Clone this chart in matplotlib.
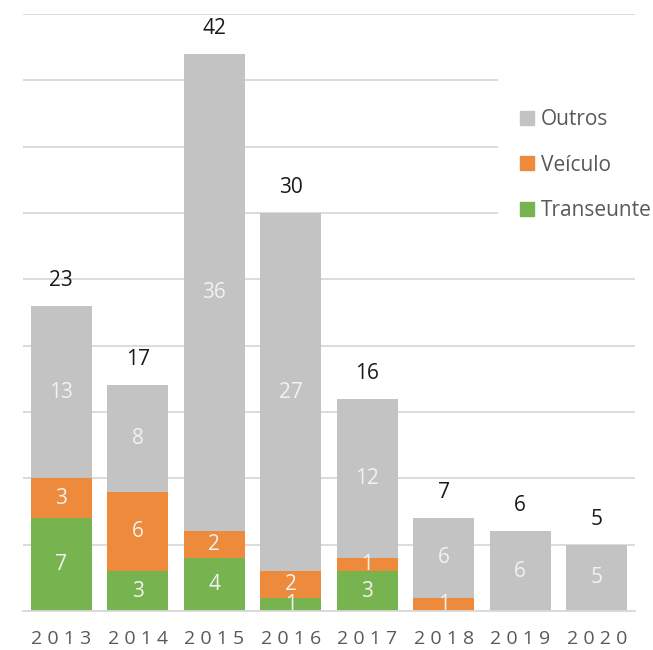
import matplotlib
matplotlib.use("Agg")
import matplotlib.pyplot as plt
from matplotlib.patches import Patch, Rectangle
import numpy as np

years = ["2013", "2014", "2015", "2016", "2017", "2018", "2019", "2020"]
transeunte = [7, 3, 4, 1, 3, 0, 0, 0]
veiculo = [3, 6, 2, 2, 1, 1, 0, 0]
outros = [13, 8, 36, 27, 12, 6, 6, 5]

c_green = "#77B34F"
c_orange = "#EE8A3C"
c_gray = "#C3C3C3"
grid_c = "#D9D9D9"

plt.rcParams['font.family'] = ['Open Sans', 'DejaVu Sans']

fig = plt.figure(figsize=(6.53, 6.50), dpi=100)
ax = fig.add_axes([23/653, 39/650, 612/653, 597/650])

x = np.arange(len(years))
t = np.array(transeunte)
v = np.array(veiculo)
o = np.array(outros)
w = 0.8

series = [(t, np.zeros_like(t), c_green, "Transeunte"),
          (v, t, c_orange, "Veículo"),
          (o, t + v, c_gray, "Outros")]
for vals, bottom, col, name in series:
    ax.bar(x, vals, w, bottom=bottom, color=col, zorder=2, label=name)
    for xi, val, b in zip(x, vals, bottom):
        if val > 0:
            ax.text(xi, b + val / 2, str(val), ha='center', va='center',
                    color='#F2F2F2', fontsize=15, zorder=3)

totals = t + v + o
for xi, tot in zip(x, totals):
    ax.annotate(str(tot), (xi, tot), xytext=(0, 14.5), textcoords='offset points',
                ha='center', va='baseline', fontsize=15, color='#1A1A1A')

ax.set_xlim(-0.5, len(years) - 0.5)
ax.set_ylim(0, 45)
ax.set_yticks(np.arange(0, 46, 5))
ax.yaxis.grid(True, color=grid_c, linewidth=1.3, zorder=0)
ax.set_axisbelow(True)
ax.tick_params(axis='y', left=False, labelleft=False)
ax.set_xticks(x)
ax.set_xticklabels([" ".join(yv) for yv in years], fontsize=14, color='#595959')
ax.tick_params(axis='x', length=0, pad=14)
for s in ['top', 'right', 'left']:
    ax.spines[s].set_visible(False)
ax.spines['bottom'].set_color(grid_c)
ax.spines['bottom'].set_linewidth(1.3)

# white legend background box hiding gridlines
ax.add_patch(Rectangle((498/653, (650-255)/650), 155/653, 180/650,
                       transform=fig.transFigure, facecolor='white',
                       edgecolor='none', zorder=1, clip_on=False))

handles = [Patch(color=c_gray, label="Outros"),
           Patch(color=c_orange, label="Veículo"),
           Patch(color=c_green, label="Transeunte")]
leg = ax.legend(handles=handles, loc='upper left', bbox_to_anchor=(520/653, (650-109)/650),
                bbox_transform=fig.transFigure, frameon=False, fontsize=15,
                handlelength=0.65, handleheight=0.65, handletextpad=0.35,
                labelspacing=1.18, borderpad=0, borderaxespad=0)
for txt in leg.get_texts():
    txt.set_color('#595959')

fig.savefig("out.png", dpi=100, facecolor='white')
